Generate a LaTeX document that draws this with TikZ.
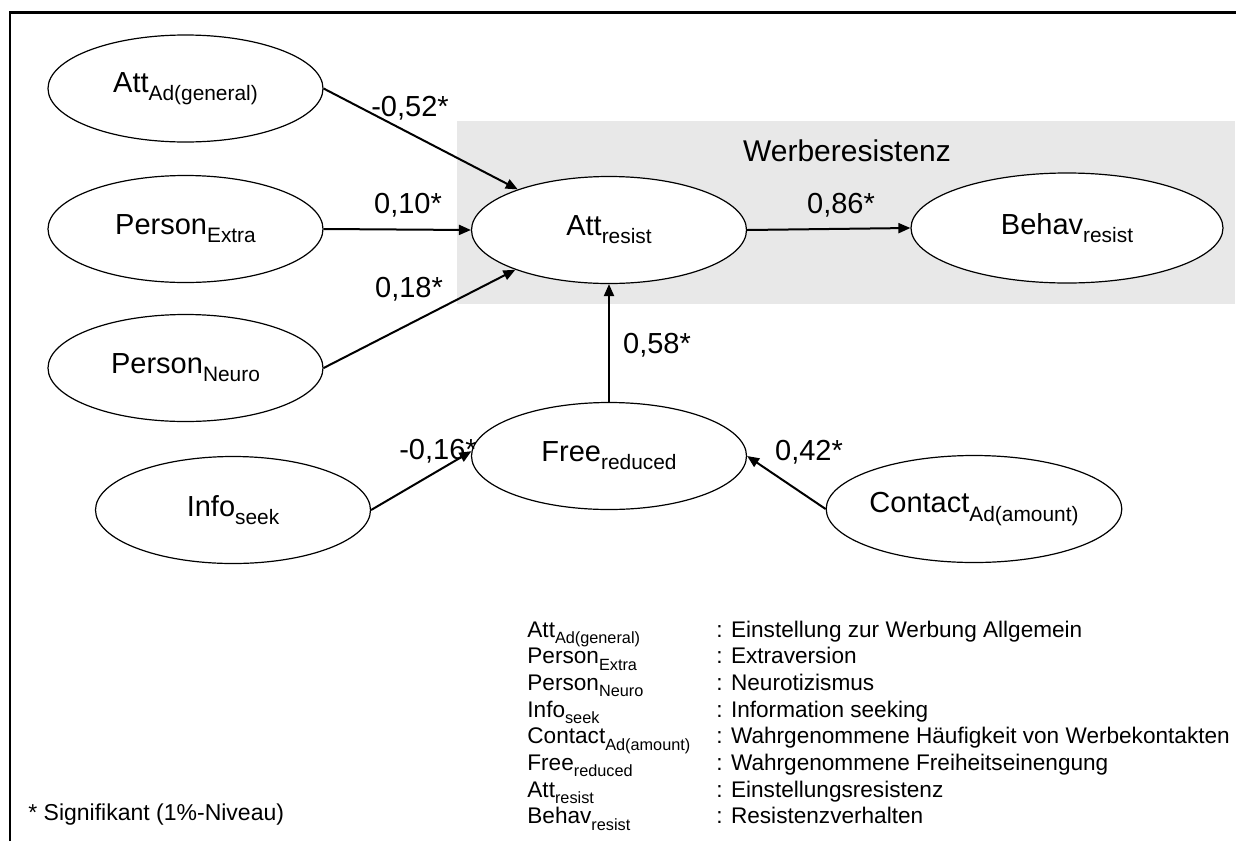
\documentclass[tikz,border=0pt]{standalone}
\usepackage{fontspec}
\setmainfont{Liberation Sans}
\usetikzlibrary{arrows.meta, shapes.geometric}
\definecolor{boxgray}{HTML}{E8E8E8}
\newcommand{\idx}[1]{\raisebox{-0.28em}{\scalebox{0.72}{#1}}}

\begin{document}
\begin{tikzpicture}[
    x=0.5pt, y=-0.5pt,
    construct/.style={ellipse, draw, line width=0.6pt, fill=white, inner sep=0pt,
                      minimum width=137.5pt, minimum height=53.5pt,
                      font=\fontsize{14.5}{16}\selectfont},
    arrow/.style={-{Triangle[length=6pt, width=5pt]}, line width=1pt},
    coef/.style={font=\fontsize{14.5}{16}\selectfont, inner sep=0pt},
    legend/.style={anchor=base west, inner sep=0pt, font=\fontsize{11.3}{13}\selectfont}
]
\useasboundingbox (0,0) rectangle (1236,841);

% Frame
\draw[line width=1.2pt] (10,841) -- (10,12.5) -- (1236,12.5);

% Werberesistenz area
\fill[boxgray] (457,121) rectangle (1235,304);
\node[coef, font=\fontsize{15}{17}\selectfont] at (847,151) (werb) {Werberesistenz};

% Predictors
\node[construct] at (185.5,88.5) (attad) {Att\idx{Ad(general)}};
\node[construct] at (185.5,229) (extra) {Person\idx{Extra}};
\node[construct] at (185.5,368) (neuro) {Person\idx{Neuro}};
\node[construct] at (233,510) (info) {Info\idx{seek}};
\node[construct] at (974,509) (contact) {Contact\idx{Ad(amount)}};

% Mediator and outcomes
\node[construct] at (609,456) (free) {Free\idx{reduced}};
\node[construct] at (609,230) (attres) {Att\idx{resist}};
\node[construct, minimum width=156pt, minimum height=55pt] at (1067,228) (behav) {Behav\idx{resist}};

% Paths
\draw[arrow] (attad.east) -- (attres.156);
\draw[arrow] (extra.east) -- (attres.west);
\draw[arrow] (neuro.east) -- (attres.203);
\draw[arrow] (free.north) -- (attres.south);
\draw[arrow] (info.east) -- (free.178);
\draw[arrow] (contact.west) -- (free.east);
\draw[arrow] (attres.east) -- (behav.west);

% Coefficients
\node[coef] at (410,108) (c-attad) {-0,52*};
\node[coef] at (408,205) (c-extra) {0,10*};
\node[coef] at (409,289) (c-neuro) {0,18*};
\node[coef] at (841,205) (c-behav) {0,86*};
\node[coef] at (657,345) (c-free) {0,58*};
\node[coef] at (438,451) (c-info) {-0,16*};
\node[coef] at (809,452) (c-contact) {0,42*};

% Legend
\node[legend] at (527,637) (l1) {\makebox[94.5pt][l]{Att\idx{Ad(general)}}: Einstellung zur Werbung Allgemein};
\node[legend] at (527,663.7) (l2) {\makebox[94.5pt][l]{Person\idx{Extra}}: Extraversion};
\node[legend] at (527,690.4) (l3) {\makebox[94.5pt][l]{Person\idx{Neuro}}: Neurotizismus};
\node[legend] at (527,717.1) (l4) {\makebox[94.5pt][l]{Info\idx{seek}}: Information seeking};
\node[legend] at (527,743.8) (l5) {\makebox[94.5pt][l]{Contact\idx{Ad(amount)}}: Wahrgenommene Häufigkeit von Werbekontakten};
\node[legend] at (527,770.5) (l6) {\makebox[94.5pt][l]{Free\idx{reduced}}: Wahrgenommene Freiheitseinengung};
\node[legend] at (527,797.2) (l7) {\makebox[94.5pt][l]{Att\idx{resist}}: Einstellungsresistenz};
\node[legend] at (527,823.9) (l8) {\makebox[94.5pt][l]{Behav\idx{resist}}: Resistenzverhalten};

\node[legend, font=\fontsize{11.5}{14}\selectfont] at (28,820) (sig) {* Signifikant (1\%-Niveau)};

\end{tikzpicture}
\end{document}
